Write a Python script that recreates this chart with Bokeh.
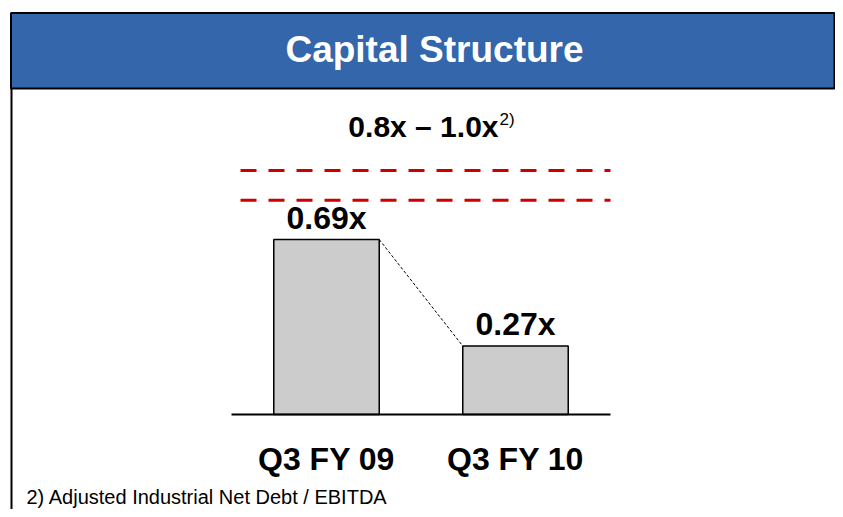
from bokeh.plotting import figure
from bokeh.models import Range1d
from bokeh.embed import file_html
from bokeh.resources import INLINE
from bokeh.core.properties import value

# ---- data ----
categories = ["Q3 FY 09", "Q3 FY 10"]
leverage = [0.69, 0.27]
value_labels = ["0.69x", "0.27x"]
target_label = "0.8x \u2013 1.0x"
target_note = "2)"
target_guides = [0.845, 0.962]   # dashed guide lines as drawn
title_text = "Capital Structure"
footnote = "2) Adjusted Industrial Net Debt / EBITDA"

# ---- geometry (image px -> data) ----
W, H = 835, 509
PX_X, X0 = 189.0, 326.0      # px per category step, image x of first category
PX_Y, Y0 = 253.6, 414.0      # px per unit, image y of baseline

def X(px):
    return (px - X0) / PX_X

def Y(py):
    return (Y0 - py) / PX_Y

p = figure(width=W, height=H, output_backend="svg", toolbar_location=None,
           x_range=Range1d(X(0), X(W)), y_range=Range1d(Y(H), Y(0)),
           min_border=0, outline_line_color=None, background_fill_color="white",
           border_fill_color="white")
p.xaxis.visible = False
p.yaxis.visible = False
p.xgrid.visible = False
p.ygrid.visible = False

FONT = value("Liberation Sans")
xs = list(range(len(categories)))

# title bar
p.quad(left=[X(10.5)], right=[X(834)], top=[Y(12.5)], bottom=[Y(88)],
       fill_color="#3366AA", line_color="black", line_width=2)
p.segment(x0=[X(11)], y0=[Y(88)], x1=[X(11)], y1=[Y(520)], line_color="black", line_width=2)
p.text(x=[X(434)], y=[Y(49)], text=[title_text], text_font=FONT, text_font_style="bold",
       text_font_size="37px", text_color="white", text_align="center", text_baseline="middle")

# dashed target guides
gx0, gx1 = X(240), X(610)
p.segment(x0=[gx0] * len(target_guides), y0=target_guides,
          x1=[gx1] * len(target_guides), y1=target_guides,
          line_color="#CC0000", line_width=3, line_dash="16 12")

# target label + superscript
p.text(x=[X(498)], y=[Y(126)], text=[target_label], text_font=FONT, text_font_style="bold",
       text_font_size="30px", text_color="black", text_align="right", text_baseline="middle")
p.text(x=[X(499)], y=[Y(119)], text=[target_note], text_font=FONT,
       text_font_size="17px", text_color="black", text_align="left", text_baseline="middle")

# bars
bw = 0.558
p.vbar(x=xs, top=leverage, bottom=0, width=bw, fill_color="#CCCCCC",
       line_color="black", line_width=1.5)

# connector
p.segment(x0=[xs[0] + bw / 2], y0=[leverage[0]], x1=[xs[1] - bw / 2], y1=[leverage[1]],
          line_color="black", line_width=1, line_dash="3 2")

# baseline
p.segment(x0=[X(231)], y0=[0], x1=[X(610)], y1=[0], line_color="black", line_width=2)

# value labels
p.text(x=xs, y=leverage, text=value_labels, text_font=FONT, text_font_style="bold",
       text_font_size="32px", text_color="black", text_align="center",
       text_baseline="middle", y_offset=-22)

# category labels
p.text(x=xs, y=[0] * len(xs), text=categories, text_font=FONT, text_font_style="bold",
       text_font_size="32px", text_color="black", text_align="center",
       text_baseline="middle", y_offset=44)

# footnote
p.text(x=[X(26)], y=[Y(496)], text=[footnote], text_font=FONT,
       text_font_size="20px", text_color="black", text_align="left", text_baseline="middle")

open("out.html", "w").write(file_html(p, INLINE))
